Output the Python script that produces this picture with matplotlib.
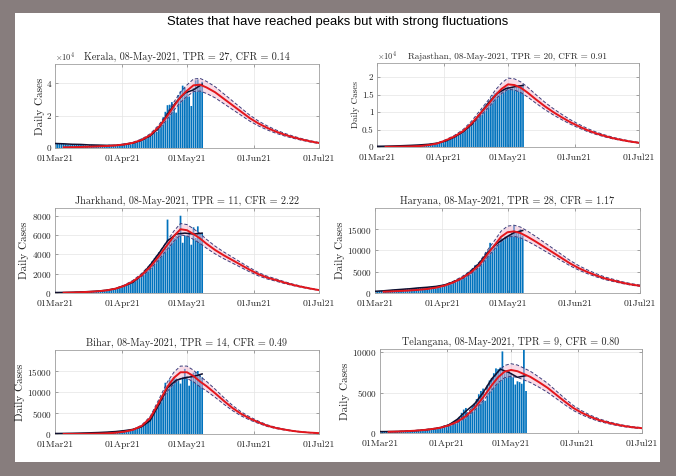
import numpy as np
import matplotlib
matplotlib.use('Agg')
import matplotlib.pyplot as plt
from matplotlib.patches import Rectangle
from matplotlib.ticker import FuncFormatter

plt.rcParams['axes.formatter.use_mathtext'] = True
plt.rcParams['mathtext.fontset'] = 'cm'

# ---------------- data ----------------
start = np.datetime64('2021-03-01')
bar_dates = np.arange(start, np.datetime64('2021-05-09'))          # 01Mar .. 08May
tick_dates = np.array(['2021-03-01', '2021-04-01', '2021-05-01',
                       '2021-06-01', '2021-07-01'], dtype='datetime64[D]')
tick_labels = ['01Mar21', '01Apr21', '01May21', '01Jun21', '01Jul21']

# day offsets (from 01Mar21) where the fitted curves were read
fit_days = [4, 8, 12, 16, 20, 24, 28, 32, 36, 40, 44, 48, 52, 55, 58, 61, 64, 67,
            70, 74, 78, 82, 86, 90, 94, 98, 102, 106, 110, 114, 118, 122]
# day offsets where the smoothed data line was read
smooth_days = [0, 4, 8, 12, 16, 20, 24, 28, 32, 36, 40, 44, 48, 52, 56, 60, 64, 68]

states = ['Kerala', 'Rajasthan', 'Jharkhand', 'Haryana', 'Bihar', 'Telangana']
tpr = [27, 20, 11, 28, 14, 9]
cfr = ['0.14', '0.91', '2.22', '1.17', '0.49', '0.80']

kerala_daily = [2900, 2700, 2800, 2600, 2500, 2400, 2100, 1800, 2300, 2500, 2400, 2200, 2000, 1800, 1700,
                1500, 1900, 2000, 1900, 1800, 1700, 1500, 1300, 1600, 1800, 2000, 1900, 1600, 1500, 1400, 2400,
                2600, 2700, 2500, 2300, 2200, 3500, 4000, 4300, 5000, 6000, 5700, 5600, 7500, 8100, 8800,
                10000, 10000, 13600, 13000, 19000, 22400, 26500, 26800, 28400, 26600, 21900, 32800, 35000, 38600, 37200,
                35600, 31900, 26000, 37200, 41900, 42400, 38400, 41000]
kerala_smooth = [2800, 2600, 2300, 2200, 1900, 1800, 1650, 1650, 2200, 3000, 4800, 7500, 12500, 21000,
                 28500, 34000, 36000, 39500]
kerala_fit = [400, 500, 650, 800, 1000, 1250, 1600, 2200, 3200, 5000, 8000, 13000, 20000, 26000, 31500, 35500,
              38800, 39200, 37500, 34500, 30500, 26500, 22500, 18500, 15200, 12500, 10200, 8300, 6700, 5300, 4100, 3100]
kerala_upper = [440, 550, 715, 880, 1100, 1375, 1760, 2420, 3520, 5500, 8800, 14300, 22000, 28600, 34650, 39050,
                42680, 43120, 41250, 37950, 33550, 29150, 24750, 20350, 16720, 13750, 11220, 9130, 7370, 5830, 4510, 3410]
kerala_lower = [360, 450, 585, 720, 900, 1125, 1440, 1980, 2880, 4500, 7200, 11700, 18000, 23400, 28350, 31950,
                34920, 35280, 33750, 31050, 27450, 23850, 20250, 16650, 13680, 11250, 9180, 7470, 6030, 4770, 3690, 2790]

rajasthan_daily = [200, 180, 220, 250, 230, 260, 280, 250, 300, 320, 350, 330, 380, 400, 420,
                   450, 480, 500, 520, 560, 600, 650, 700, 750, 800, 900, 1000, 1100, 1200, 1300, 1400,
                   1600, 1800, 2000, 2300, 2600, 2900, 3200, 3500, 4000, 4500, 5100, 5700, 6200, 6700, 7400,
                   8100, 9000, 9900, 10800, 11600, 12400, 13200, 14100, 14900, 15400, 15800, 16100, 16500, 16700, 17000,
                   17300, 16800, 17200, 17000, 17400, 17700, 17600, 17900]
rajasthan_smooth = [200, 240, 300, 380, 480, 600, 780, 1100, 1700, 2800, 4300, 6400, 9500, 12700,
                    15300, 16700, 17200, 17600]
rajasthan_fit = [50, 80, 120, 180, 280, 550, 1000, 1900, 3000, 4500, 6700, 9500, 12300, 14700, 16600, 17900,
                 17700, 16900, 15600, 13600, 11700, 10000, 8500, 7100, 5900, 4800, 3900, 3150, 2500, 2000, 1550, 1200]
rajasthan_upper = [55, 88, 132, 198, 308, 605, 1100, 2090, 3300, 4950, 7370, 10450, 13530, 16170, 18260, 19690,
                   19470, 18590, 17160, 14960, 12870, 11000, 9350, 7810, 6490, 5280, 4290, 3465, 2750, 2200, 1705, 1320]
rajasthan_lower = [46, 74, 110, 166, 258, 506, 920, 1748, 2760, 4140, 6164, 8740, 11316, 13524, 15272, 16468,
                   16284, 15548, 14352, 12512, 10764, 9200, 7820, 6532, 5428, 4416, 3588, 2898, 2300, 1840, 1426, 1104]

jharkhand_daily = [40, 50, 60, 55, 70, 60, 80, 75, 90, 85, 100, 110, 95, 120, 130,
                   140, 150, 160, 180, 200, 190, 220, 250, 270, 300, 320, 350, 400, 450, 500, 600,
                   700, 750, 850, 900, 1000, 1100, 1300, 1500, 1700, 1900, 2100, 2400, 2700, 3000, 3300,
                   3600, 3900, 4200, 4300, 4500, 4800, 7600, 5300, 5500, 5700, 5900, 6000, 8000, 5200, 6000,
                   5900, 6300, 5000, 6800, 5700, 6900, 6100, 6200]
jharkhand_smooth = [50, 60, 80, 110, 150, 200, 290, 450, 750, 1100, 1850, 2900, 4100, 5400,
                    6100, 6200, 6100, 6200]
jharkhand_fit = [30, 50, 80, 120, 180, 280, 450, 750, 1200, 1850, 2700, 3800, 5000, 5900, 6600, 6500,
                 6100, 5650, 5100, 4450, 3900, 3400, 2900, 2400, 1950, 1600, 1350, 1080, 840, 640, 460, 300]
jharkhand_upper = [33, 55, 87, 131, 196, 305, 490, 818, 1308, 2017, 2943, 4142, 5450, 6431, 7194, 7085,
                   6649, 6159, 5559, 4851, 4251, 3706, 3161, 2616, 2126, 1744, 1472, 1177, 916, 698, 501, 327]
jharkhand_lower = [27, 46, 73, 109, 164, 255, 410, 683, 1092, 1684, 2457, 3458, 4550, 5369, 6006, 5915,
                   5551, 5142, 4641, 4050, 3549, 3094, 2639, 2184, 1775, 1456, 1229, 983, 764, 582, 419, 273]

haryana_daily = [400, 450, 500, 480, 520, 600, 650, 700, 750, 800, 780, 850, 900, 950, 1000,
                 1050, 1100, 1000, 1150, 1200, 1250, 1300, 1200, 1350, 1400, 1450, 1500, 1550, 1600, 1650, 1700,
                 1800, 1900, 2100, 2300, 2500, 2700, 2900, 3100, 3300, 3500, 4000, 4300, 4800, 5400, 5900,
                 6500, 6300, 7200, 7800, 8500, 9600, 10000, 11800, 10200, 11500, 12100, 12500, 13000, 12800, 13300,
                 13500, 13800, 14200, 15800, 14500, 14200, 15000, 13500]
haryana_smooth = [400, 520, 700, 850, 1000, 1200, 1350, 1550, 1900, 2600, 3500, 5000, 7000, 9600,
                  11600, 13000, 14200, 14700]
haryana_fit = [300, 380, 480, 600, 750, 950, 1250, 1750, 2500, 3500, 4800, 6600, 9300, 11200, 13200, 14300,
               14500, 14100, 13300, 12100, 10800, 9500, 8200, 6900, 5800, 4900, 4100, 3400, 2900, 2400, 2000, 1700]
haryana_upper = [330, 420, 530, 660, 825, 1045, 1375, 1925, 2750, 3850, 5280, 7260, 10230, 12320, 14520, 15730,
                 15950, 15510, 14630, 13310, 11880, 10450, 9020, 7590, 6380, 5390, 4510, 3740, 3190, 2640, 2200, 1870]
haryana_lower = [276, 350, 442, 552, 690, 874, 1150, 1610, 2300, 3220, 4416, 6072, 8556, 10304, 12144, 13156,
                 13340, 12972, 12236, 11132, 9936, 8740, 7544, 6348, 5336, 4508, 3772, 3128, 2668, 2208, 1840, 1564]

bihar_daily = [100, 120, 110, 130, 150, 140, 160, 180, 170, 200, 190, 220, 230, 250, 240,
               260, 280, 300, 320, 340, 360, 380, 400, 430, 460, 500, 530, 560, 600, 650, 700,
               750, 800, 850, 900, 1000, 1100, 1200, 1400, 1600, 1800, 2100, 2600, 3300, 4100, 4900,
               5900, 6800, 7800, 8700, 9600, 12200, 11500, 13000, 12500, 13500, 13200, 12800, 12000, 13600, 15500,
               13700, 11500, 14000, 14600, 14800, 15000, 14000, 13500]
bihar_smooth = [120, 140, 170, 220, 280, 350, 450, 580, 800, 1100, 1700, 3200, 7000, 11000,
                12800, 13400, 13700, 14300]
bihar_fit = [10, 20, 35, 60, 100, 170, 300, 550, 1000, 1900, 3800, 7500, 11300, 13400, 14700, 14700,
             13800, 12500, 11400, 9700, 7900, 6200, 4800, 3700, 2800, 2000, 1450, 1050, 720, 480, 320, 210]
bihar_upper = [11, 22, 39, 66, 110, 187, 330, 605, 1100, 2090, 4180, 8250, 12430, 14740, 16170, 16170,
               15180, 13750, 12540, 10670, 8690, 6820, 5280, 4070, 3080, 2200, 1595, 1155, 792, 528, 352, 231]
bihar_lower = [9, 18, 32, 54, 90, 153, 270, 495, 900, 1710, 3420, 6750, 10170, 12060, 13230, 13230,
               12420, 11250, 10260, 8730, 7110, 5580, 4320, 3330, 2520, 1800, 1305, 945, 648, 432, 288, 189]

telangana_daily = [170, 180, 160, 190, 170, 190, 200, 180, 190, 200, 190, 210, 220, 240, 250,
                   250, 270, 300, 320, 350, 380, 400, 430, 460, 500, 520, 560, 600, 650, 700, 750,
                   900, 950, 1100, 1300, 1500, 1700, 2000, 2500, 2900, 3100, 2400, 2700, 3300, 3700, 4200,
                   4800, 5200, 5500, 4000, 5900, 6500, 6800, 7400, 8000, 7900, 8100, 10100, 7400, 7800, 7700,
                   7400, 6900, 6000, 6400, 6300, 6100, 10300, 5200]
telangana_smooth = [170, 180, 190, 220, 270, 360, 480, 650, 1000, 1700, 2700, 3600, 5000, 6700,
                    7900, 7500, 6900, 7100]
telangana_fit = [150, 180, 220, 280, 360, 480, 650, 950, 1400, 2100, 3100, 4400, 5900, 6900, 7600, 7800,
                 7650, 7300, 6950, 6300, 5600, 4750, 3900, 3100, 2500, 2000, 1600, 1300, 1050, 850, 700, 600]
telangana_upper = [165, 198, 242, 308, 396, 528, 715, 1045, 1540, 2310, 3410, 4840, 6490, 7590, 8360, 8580,
                   8415, 8030, 7645, 6930, 6160, 5225, 4290, 3410, 2750, 2200, 1760, 1430, 1155, 935, 770, 660]
telangana_lower = [135, 162, 198, 252, 324, 432, 585, 855, 1260, 1890, 2790, 3960, 5310, 6210, 6840, 7020,
                   6885, 6570, 6255, 5670, 5040, 4275, 3510, 2790, 2250, 1800, 1440, 1170, 945, 765, 630, 540]

daily = [kerala_daily, rajasthan_daily, jharkhand_daily, haryana_daily, bihar_daily, telangana_daily]
smooth = [kerala_smooth, rajasthan_smooth, jharkhand_smooth, haryana_smooth, bihar_smooth, telangana_smooth]
fit = [kerala_fit, rajasthan_fit, jharkhand_fit, haryana_fit, bihar_fit, telangana_fit]
upper = [kerala_upper, rajasthan_upper, jharkhand_upper, haryana_upper, bihar_upper, telangana_upper]
lower = [kerala_lower, rajasthan_lower, jharkhand_lower, haryana_lower, bihar_lower, telangana_lower]

y_max = [52000, 24000, 8800, 20000, 20000, 10400]
y_ticks = [[0, 20000, 40000], [0, 5000, 10000, 15000, 20000], [0, 2000, 4000, 6000, 8000],
           [0, 5000, 10000, 15000], [0, 5000, 10000, 15000], [0, 5000, 10000]]
sci = [True, True, False, False, False, False]

# ---------------- layout (pixels: left, top, right, bottom) ----------------
W, H = 676, 476
boxes = [(55, 64, 319, 148), (377, 63, 639, 147),
         (55, 208, 319, 293), (375, 208, 640, 293),
         (55, 350, 319, 434), (380, 349, 642, 433)]
title_fs = [7.3, 6.6, 7.3, 7.3, 7.3, 7.3]
label_fs = [8, 6.6, 8, 8, 8, 8]

fig = plt.figure(figsize=(W / 100, H / 100), dpi=100, facecolor='#877d7d')
fig.patches.append(Rectangle((15 / W, 14 / H), 645 / W, 449 / H, transform=fig.transFigure,
                             facecolor='white', edgecolor='none', zorder=0))
fig.text(0.5, 1 - 22 / H, 'States that have reached peaks but with strong fluctuations',
         ha='center', va='center', fontsize=9.4, family=['Liberation Sans', 'DejaVu Sans'])

serif = ['cmr10', 'DejaVu Serif']
x_bar = (bar_dates - start).astype(int)
x_ticks = (tick_dates - start).astype(int)

for i, name in enumerate(states):
    l, t, r, b = boxes[i]
    ax = fig.add_axes([l / W, 1 - b / H, (r - l) / W, (b - t) / H])
    ax.set_zorder(2)
    ax.bar(x_bar, daily[i], width=0.8, color='#0072BD', linewidth=0, zorder=2, snap=False)
    ax.fill_between(fit_days, lower[i], upper[i], color='#f2b8d0', alpha=0.5, linewidth=0, zorder=3)
    ax.plot(fit_days, upper[i], color='#3c3c7a', lw=0.7, ls=(0, (3.5, 2)), zorder=4)
    ax.plot(fit_days, lower[i], color='#3c3c7a', lw=0.7, ls=(0, (3.5, 2)), zorder=4)
    ax.plot(smooth_days, smooth[i], color='#101030', lw=1.1, zorder=5)
    ax.plot(fit_days, fit[i], color='#e3161c', lw=1.4, zorder=6)

    ax.set_xlim(x_ticks[0], x_ticks[-1])
    ax.set_ylim(0, y_max[i])
    ax.set_xticks(x_ticks)
    ax.set_xticklabels(tick_labels, family=serif, fontsize=7)
    ax.set_yticks(y_ticks[i])
    if sci[i]:
        ax.yaxis.set_major_formatter(FuncFormatter(lambda v, p: f'{v / 1e4:g}'))
        ax.text(0.0, 1.015, r'$\times10^4$', transform=ax.transAxes, ha='left', va='bottom',
                fontsize=6, color='#333333')
    for lab in ax.get_yticklabels():
        lab.set_family(serif)
        lab.set_fontsize(6.6)
    ax.grid(True, color='#e4e4e4', lw=0.5, zorder=0)
    ax.set_axisbelow(True)
    ax.tick_params(direction='in', length=2, width=0.5, top=True, right=True,
                   colors='#808080', labelcolor='#262626')
    ax.tick_params(axis='x', pad=4.5)
    ax.tick_params(axis='y', pad=2.5)
    for sp in ax.spines.values():
        sp.set_color('#a0a0a0')
        sp.set_linewidth(0.6)
    ax.set_title(f'{name}, 08-May-2021, TPR = {tpr[i]}, CFR = {cfr[i]}',
                 family=serif, fontsize=title_fs[i], pad=3, color='#262626')
    ax.set_ylabel('Daily Cases', family=serif, fontsize=label_fs[i], labelpad=1.5, color='#262626')

fig.savefig('out.png', dpi=100, facecolor=fig.get_facecolor())
